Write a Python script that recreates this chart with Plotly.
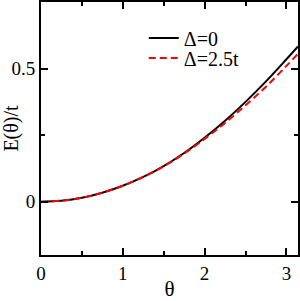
import plotly.graph_objects as go
import math

theta = [0, 0.25, 0.5, 0.75, 1.0, 1.25, 1.5, 1.75, 2.0, 2.25, 2.5, 2.75, 3.0, math.pi]
e_delta0 = [0, 0.004, 0.015, 0.034, 0.060, 0.093, 0.134, 0.183, 0.240, 0.304, 0.375, 0.452, 0.535, 0.583]
e_delta25 = [0, 0.004, 0.015, 0.034, 0.060, 0.093, 0.133, 0.181, 0.236, 0.296, 0.362, 0.432, 0.510, 0.556]

xticks = [0, 1, 2, 3]
yticks = [0, 0.5]

fnt = "Liberation Serif"

fig = go.Figure()
fig.add_trace(go.Scatter(x=theta, y=e_delta0, mode="lines", name="Δ=0", legend="legend",
                         line=dict(color="black", width=2, shape="spline")))
fig.add_trace(go.Scatter(x=theta, y=e_delta25, mode="lines", name="Δ=2.5t", legend="legend2",
                         line=dict(color="red", width=2, dash="7px,4px", shape="spline")))

axis_common = dict(showline=True, linewidth=2, linecolor="black", mirror="ticks",
                   ticks="inside", ticklen=7, tickwidth=2, tickcolor="black",
                   showgrid=False, zeroline=False, automargin=False,
                   tickfont=dict(family=fnt, size=19, color="black"))

fig.update_xaxes(range=[0, math.pi], tickvals=xticks, ticktext=[str(v) for v in xticks],
                 minor=dict(dtick=0.5, tick0=0, ticks="inside", ticklen=4, tickwidth=2, tickcolor="black", showgrid=False),
                 title=dict(text="θ", font=dict(family=fnt, size=21, color="black")),
                 **axis_common)
fig.update_yaxes(range=[-0.2, 0.75], tickvals=yticks, ticktext=["0", "0.5"],
                 minor=dict(dtick=0.25, tick0=0, ticks="inside", ticklen=4, tickwidth=2, tickcolor="black", showgrid=False),
                 title=dict(text="E(θ)/t", font=dict(family=fnt, size=20, color="black")),
                 **axis_common)

leg_common = dict(xanchor="left", yanchor="middle", bgcolor="rgba(0,0,0,0)", borderwidth=0,
                  font=dict(family=fnt, size=20, color="black"), itemwidth=30)

fig.update_layout(
    width=300, height=301,
    margin=dict(l=41, r=2, t=2, b=46),
    paper_bgcolor="white", plot_bgcolor="white",
    showlegend=True,
    legend=dict(x=0.40, y=0.858, **leg_common),
    legend2=dict(x=0.40, y=0.779, **leg_common),
)

fig.write_html("out.html", config={"displayModeBar": False},
               post_script="document.body.style.margin='0px';document.body.style.overflow='hidden';")
